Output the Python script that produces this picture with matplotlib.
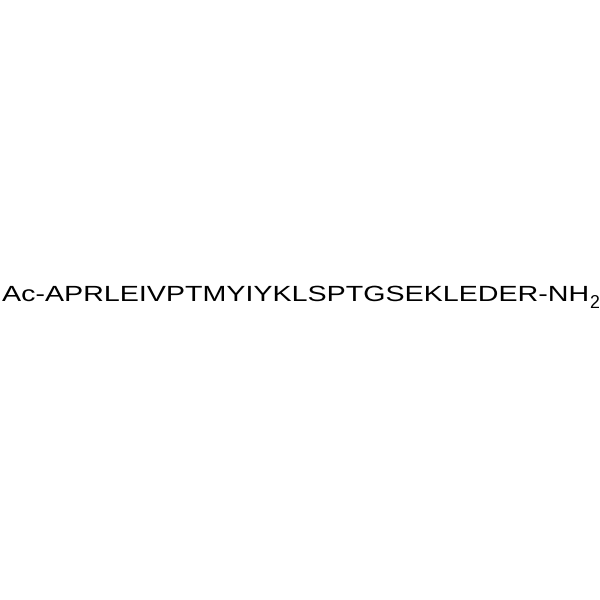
import matplotlib.pyplot as plt
from matplotlib.patheffects import AbstractPathEffect
from matplotlib.transforms import Affine2D

# secuencia del peptido
prefijo = "Ac-"
secuencia = "APRLEIVPTMYIYKLSPTGSEKLEDER"
sufijo = "-NH"
subindice = "2"


# efecto para ensanchar el texto horizontalmente (desde su punto de anclaje)
class Estirar(AbstractPathEffect):
    def __init__(self, sx):
        super().__init__()
        self.sx = sx

    def draw_path(self, renderer, gc, tpath, affine, rgbFace=None):
        tx = affine.get_matrix()[0, 2]
        nuevo = affine + Affine2D().translate(-tx, 0).scale(self.sx, 1).translate(tx, 0)
        renderer.draw_path(gc, tpath, nuevo, rgbFace)


fig = plt.figure(figsize=(6, 6), dpi=100)
fig.patch.set_facecolor('white')

x_ini = 2
x_fin = 589
texto = prefijo + secuencia + sufijo
t = fig.text(x_ini / 600, 1 - 301 / 600, texto, fontsize=15.8,
             family='Liberation Sans', color='black', va='baseline', ha='left')

fig.canvas.draw()
bb = t.get_window_extent(renderer=fig.canvas.get_renderer())
sx = (x_fin - x_ini) / bb.width
t.set_path_effects([Estirar(sx)])

# subindice del NH2
fig.text((x_fin + 0.5) / 600, 1 - 307.5 / 600, subindice, fontsize=12.8,
         family='Liberation Sans', color='black', va='baseline', ha='left')

fig.savefig('out.png', dpi=100, facecolor='white')
